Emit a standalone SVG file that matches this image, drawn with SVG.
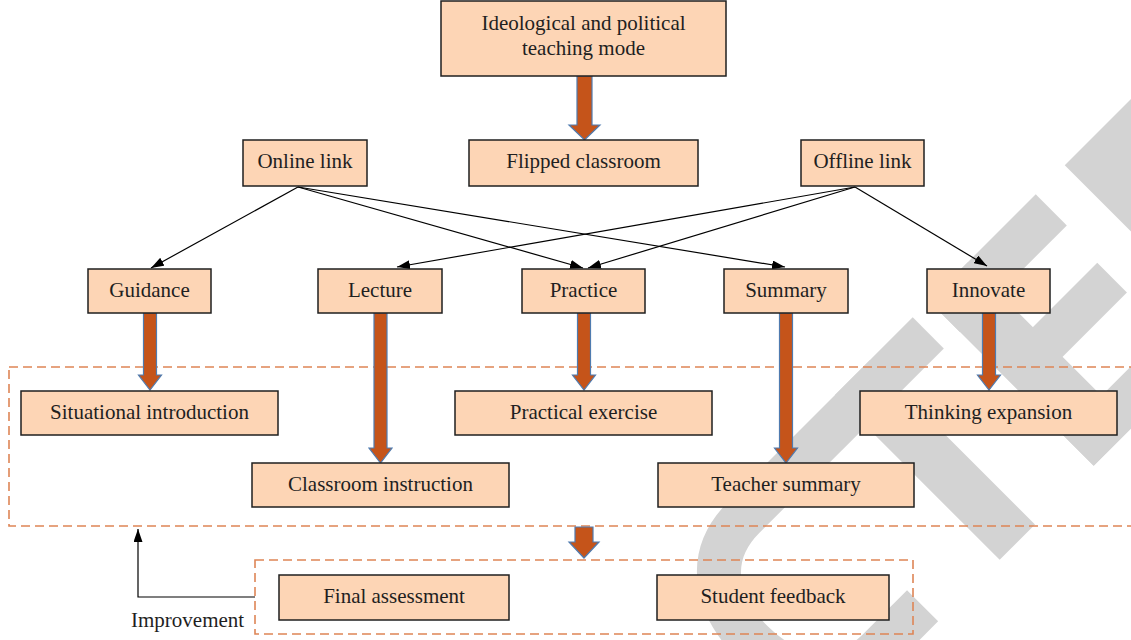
<svg xmlns="http://www.w3.org/2000/svg" width="1131" height="640" viewBox="0 0 1131 640">
<style>
.box{fill:#FDD5B5;stroke:#1f1f1f;stroke-width:1.5}
.txt{font-family:'Liberation Serif','DejaVu Serif',serif;font-size:21px;fill:#1f1f1f;text-anchor:middle}
.fat{fill:#C5541A;stroke:#4F7BAF;stroke-width:1.2;stroke-linejoin:miter}
.thin{stroke:#000;stroke-width:1.2;fill:none}
.dash{fill:none;stroke:#DE8556;stroke-width:1.6;stroke-dasharray:9 5}
.wm{fill:#D3D3D3}
</style>
<defs>
<marker id="ah" markerUnits="userSpaceOnUse" markerWidth="13" markerHeight="9" refX="13" refY="4.5" orient="auto">
<path d="M0,0 L13,4.5 L0,9 Z" fill="#000"/>
</marker>
</defs>
<rect x="0" y="0" width="1131" height="640" fill="#fff"/>
<g id="watermark" transform="translate(615,615) rotate(-45)">
<path d="M252,22 L160,22 C100,22 78,70 78,116 C78,172 112,211 162,211 L224,211" fill="none" stroke="#D3D3D3" stroke-width="44"/>
<rect class="wm" x="250" y="0" width="171" height="44"/>
<rect class="wm" x="311" y="0" width="50" height="233"/>
<rect class="wm" x="444" y="0" width="55" height="233"/>
<rect class="wm" x="444" y="0" width="151" height="44"/>
<rect class="wm" x="444" y="92" width="146" height="42"/>
<rect class="wm" x="444" y="189" width="151" height="44"/>
<path class="wm" d="M636,0 L730,0 C800,0 850,60 850,116 C850,172 800,233 730,233 L636,233 Z"/>
</g>
<g id="groups">
<rect class="dash" x="9" y="367" width="1135" height="159"/>
<rect class="dash" x="255" y="560" width="658" height="74"/>
</g>
<g id="connectors">
<polygon class="fat" points="577,76 592,76 592,125 600,125 584.5,140 569,125 577,125"/>
<polygon class="fat" points="143.5,313 156.5,313 156.5,375 161.5,375 150,390 138.5,375 143.5,375"/>
<polygon class="fat" points="374,313 387,313 387,448 392,448 380.5,463 369,448 374,448"/>
<polygon class="fat" points="577.5,313 590.5,313 590.5,375 595.5,375 584,390 572.5,375 577.5,375"/>
<polygon class="fat" points="779.5,313 792.5,313 792.5,448 797.5,448 786,463 774.5,448 779.5,448"/>
<polygon class="fat" points="982.5,313 995.5,313 995.5,375 1000.5,375 989,390 977.5,375 982.5,375"/>
<polygon class="fat" points="575,527 593,527 593,542 599,542 584,558 569,542 575,542"/>
<line class="thin" x1="298" y1="187" x2="151" y2="268" marker-end="url(#ah)"/>
<line class="thin" x1="298" y1="187" x2="583" y2="268" marker-end="url(#ah)"/>
<line class="thin" x1="298" y1="187" x2="785" y2="267" marker-end="url(#ah)"/>
<line class="thin" x1="855" y1="187" x2="397" y2="267" marker-end="url(#ah)"/>
<line class="thin" x1="855" y1="187" x2="588" y2="268" marker-end="url(#ah)"/>
<line class="thin" x1="855" y1="187" x2="987" y2="266" marker-end="url(#ah)"/>
<polyline class="thin" points="255,597 138,597 138,529" marker-end="url(#ah)"/>
</g>
<g font-family="Liberation Serif, DejaVu Serif, serif">
<g id="n-top"><rect class="box" x="441" y="1" width="285" height="75"/><text class="txt" x="583.5" y="30">Ideological and political</text><text class="txt" x="583.5" y="55">teaching mode</text></g>
<g id="n-flipped"><rect class="box" x="469" y="140" width="229" height="46"/><text class="txt" x="583.5" y="168">Flipped classroom</text></g>
<g id="n-online"><rect class="box" x="243" y="140" width="124" height="46"/><text class="txt" x="305" y="168">Online link</text></g>
<g id="n-offline"><rect class="box" x="801" y="140" width="123" height="46"/><text class="txt" x="862.5" y="168">Offline link</text></g>
<g id="n-guidance"><rect class="box" x="88" y="269" width="123" height="44"/><text class="txt" x="149.5" y="297">Guidance</text></g>
<g id="n-lecture"><rect class="box" x="318" y="269" width="124" height="44"/><text class="txt" x="380" y="297">Lecture</text></g>
<g id="n-practice"><rect class="box" x="522" y="269" width="123" height="44"/><text class="txt" x="583.5" y="297">Practice</text></g>
<g id="n-summary"><rect class="box" x="724" y="269" width="124" height="44"/><text class="txt" x="786" y="297">Summary</text></g>
<g id="n-innovate"><rect class="box" x="927" y="269" width="123" height="44"/><text class="txt" x="988.5" y="297">Innovate</text></g>
<g id="n-situational"><rect class="box" x="21" y="391" width="257" height="44"/><text class="txt" x="149.5" y="419">Situational introduction</text></g>
<g id="n-practical"><rect class="box" x="455" y="391" width="257" height="44"/><text class="txt" x="583.5" y="419">Practical exercise</text></g>
<g id="n-thinking"><rect class="box" x="860" y="391" width="257" height="44"/><text class="txt" x="988.5" y="419">Thinking expansion</text></g>
<g id="n-classroom"><rect class="box" x="252" y="463" width="257" height="44"/><text class="txt" x="380.5" y="491">Classroom instruction</text></g>
<g id="n-teacher"><rect class="box" x="658" y="463" width="256" height="44"/><text class="txt" x="786" y="491">Teacher summary</text></g>
<g id="n-final"><rect class="box" x="279" y="575" width="230" height="45"/><text class="txt" x="394" y="603">Final assessment</text></g>
<g id="n-feedback"><rect class="box" x="657" y="575" width="232" height="45"/><text class="txt" x="773" y="603">Student feedback</text></g>
<g id="label-improvement"><text class="txt" x="131" y="627" style="text-anchor:start">Improvement</text></g>
</g>
</svg>
